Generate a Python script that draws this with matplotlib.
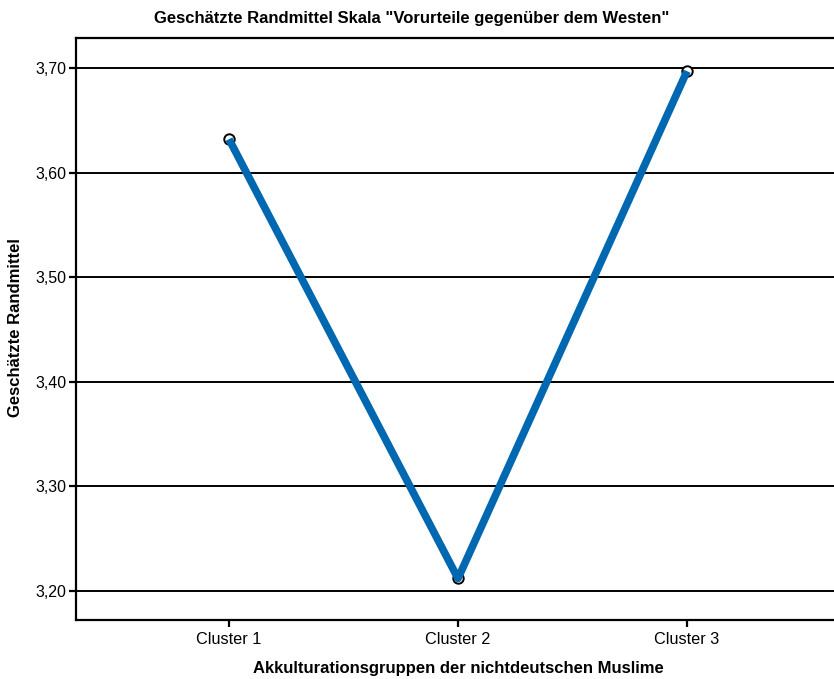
import matplotlib
matplotlib.use("Agg")
import matplotlib.pyplot as plt

plt.rcParams['font.family'] = ['Liberation Sans', 'DejaVu Sans']

categories = ["Cluster 1", "Cluster 2", "Cluster 3"]
means = [3.632, 3.212, 3.697]
yticks = [3.20, 3.30, 3.40, 3.50, 3.60, 3.70]
ytick_labels = ["3,20", "3,30", "3,40", "3,50", "3,60", "3,70"]

fig = plt.figure(figsize=(8.34, 6.79), dpi=100)
ax = fig.add_axes([76/834, 1-620/679, 764/834, (620-38)/679])

x = list(range(len(categories)))
for yv in yticks:
    ax.axhline(yv, color='black', linewidth=1.4, zorder=1)
ax.plot(x, means, linestyle='none', marker='o', markersize=7.5,
        markerfacecolor='white', markeredgecolor='black', markeredgewidth=1.4, zorder=2)
ax.plot(x, means, color='#0068B0', linewidth=5.5, solid_capstyle='butt', zorder=3)

ax.set_xlim(-0.668, 2.668)
ax.set_ylim(3.1723, 3.7287)
ax.set_xticks(x)
ax.set_xticklabels(categories, fontsize=11.7)
ax.set_yticks(yticks)
ax.set_yticklabels(ytick_labels, fontsize=11.5)
ax.tick_params(axis='both', direction='out', length=5, width=1.6, color='black')
ax.tick_params(axis='x', pad=4)
ax.tick_params(axis='y', pad=2)
for s in ax.spines.values():
    s.set_linewidth(1.6)
    s.set_color('black')

ax.set_xlabel("Akkulturationsgruppen der nichtdeutschen Muslime", fontsize=12, fontweight='bold')
ax.xaxis.set_label_coords((458-76)/764, -(669-620)/582)
ax.set_ylabel("Geschätzte Randmittel", fontsize=12, fontweight='bold')
ax.yaxis.set_label_coords(-(76-16)/764, (620-328)/582)
ax.xaxis.label.set_va('center')
ax.yaxis.label.set_va('center')
fig.text(412/834, 1-18/679, 'Geschätzte Randmittel Skala "Vorurteile gegenüber dem Westen"',
         fontsize=12, fontweight='bold', ha='center', va='center')

fig.savefig("out.png", dpi=100)
